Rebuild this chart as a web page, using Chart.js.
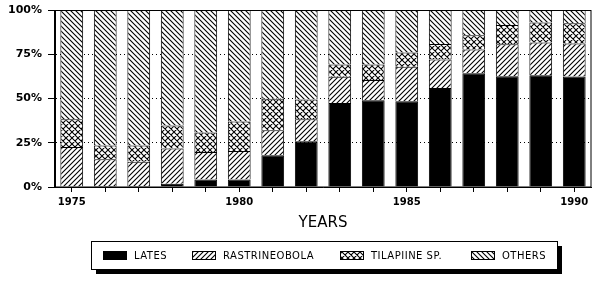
<!DOCTYPE html>
<html>
<head>
<meta charset="utf-8">
<script src="https://cdn.jsdelivr.net/npm/chart.js@4"></script>
<style>
  body { margin: 0; background: #fff; }
  canvas { display: block; }
</style>
</head>
<body>
<canvas id="myChart" width="600" height="281"></canvas>
<script>
// values, percent of catch
var years = ['1975', '1976', '1977', '1978', '1979', '1980', '1981', '1982',
             '1983', '1984', '1985', '1986', '1987', '1988', '1989', '1990'];
var lates = [0, 0.5, 0.5, 1.9, 4.2, 4.2, 17.9, 25.8, 47.5, 49, 48.5, 56, 64.2, 62.6, 63.2, 62.5];
var rastrineobola = [22.6, 15.2, 13.7, 19.8, 15.6, 16.2, 14.2, 12.5, 14.8, 11.4, 19.4, 16, 13.5, 18, 18.5, 18.6];
var tilapiine = [15.7, 7.7, 9.2, 13, 11, 16.6, 17.7, 11.1, 6.9, 8.8, 8.1, 8.8, 8.1, 10.9, 11.3, 11.4];
var others = [61.7, 76.6, 76.6, 65.3, 69.2, 63, 50.2, 50.6, 30.8, 30.8, 24, 19.2, 14.2, 8.5, 7, 7.5];
var yTicks = [0, 25, 50, 75, 100];
var xLabelled = ['1975', '1980', '1985', '1990'];

function hatch(kind) {
    var s = kind == 'cross' ? 6 : 5;
    var c = document.createElement('canvas');
    c.width = s; c.height = s;
    var g = c.getContext('2d');
    g.fillStyle = '#fff';
    g.fillRect(0, 0, s, s);
    g.strokeStyle = '#000';
    g.lineWidth = 1.1;
    g.beginPath();
    if (kind == 'fwd' || kind == 'cross') {
        g.moveTo(-1, s + 1); g.lineTo(s + 1, -1);
        g.moveTo(-1, 1); g.lineTo(1, -1);
        g.moveTo(s - 1, s + 1); g.lineTo(s + 1, s - 1);
    }
    if (kind == 'back' || kind == 'cross') {
        g.moveTo(-1, -1); g.lineTo(s + 1, s + 1);
        g.moveTo(s - 1, -1); g.lineTo(s + 1, 1);
        g.moveTo(-1, s - 1); g.lineTo(1, s + 1);
    }
    g.stroke();
    return g.createPattern(c, 'repeat');
}

var fills = ['#000', hatch('fwd'), hatch('cross'), hatch('back')];

// frame around the plot + the boxed legend with a drop shadow
var framePlugin = {
    id: 'frame',
    afterDraw: function(chart) {
        var ctx = chart.ctx;
        var a = chart.chartArea;
        ctx.save();
        ctx.strokeStyle = '#000';
        ctx.lineWidth = 1;
        ctx.strokeRect(Math.round(a.left) - 0.5, Math.round(a.top) + 0.5,
                       Math.round(a.right - a.left) + 0.5, Math.round(a.bottom - a.top) - 0.5);

        var bx = 91, by = 241, bw = 466, bh = 28;
        ctx.fillStyle = '#000';
        ctx.fillRect(bx + 5, by + 5, bw, bh);
        ctx.fillStyle = '#fff';
        ctx.fillRect(bx, by, bw, bh);
        ctx.strokeRect(bx + 0.5, by + 0.5, bw, bh);

        var itemX = [103, 192, 340, 471];
        ctx.font = '10px "DejaVu Sans"';
        ctx.letterSpacing = '0.5px';
        ctx.textBaseline = 'middle';
        chart.data.datasets.forEach(function(ds, i) {
            var x = itemX[i];
            ctx.fillStyle = ds.backgroundColor;
            ctx.fillRect(x, 251, 24, 9);
            ctx.strokeRect(x + 0.5, 251.5, 23, 8);
            ctx.fillStyle = '#000';
            ctx.fillText(ds.label, x + 31, 256);
        });
        ctx.restore();
    }
};

(function() {
    var ctx = document.getElementById('myChart').getContext('2d');
    var names = ['LATES', 'RASTRINEOBOLA', 'TILAPIINE SP.', 'OTHERS'];
    var series = [lates, rastrineobola, tilapiine, others];

    var myChart = new Chart(ctx, {
        type: 'bar',
        data: {
            labels: years,
            datasets: series.map(function(s, i) {
                return {
                    label: names[i],
                    data: s,
                    backgroundColor: fills[i],
                    borderColor: '#000',
                    // no bottom edge, so stacked segments share one separator line
                    borderWidth: { top: 1, left: 1, right: 1, bottom: 0 },
                    borderSkipped: false,
                    categoryPercentage: 1,
                    barPercentage: 0.68
                };
            })
        },
        options: {
            responsive: false,
            animation: false,
            layout: { padding: { top: 10, right: 9, left: 0, bottom: 0 } },
            plugins: {
                legend: { display: false },
                tooltip: { enabled: false }
            },
            scales: {
                x: {
                    stacked: true,
                    afterFit: function(scale) { scale.height = 94; },
                    grid: {
                        offset: false,
                        drawOnChartArea: false,
                        tickLength: 5,
                        tickColor: '#000'
                    },
                    border: { color: '#000', width: 1 },
                    ticks: {
                        autoSkip: false,
                        maxRotation: 0,
                        padding: 4,
                        color: '#000',
                        font: { family: 'DejaVu Sans', size: 10, weight: 'bold' },
                        callback: function(v) {
                            var lab = this.getLabelForValue(v);
                            return xLabelled.indexOf(lab) >= 0 ? lab : '';
                        }
                    },
                    title: {
                        display: true,
                        text: 'YEARS',
                        color: '#000',
                        font: { family: 'DejaVu Sans', size: 15 },
                        padding: { top: 0, bottom: 49 }
                    }
                },
                y: {
                    stacked: true,
                    min: 0,
                    max: 100,
                    afterFit: function(scale) {
                        scale.width = 55;
                        scale.paddingTop = 0;
                    },
                    afterBuildTicks: function(scale) {
                        scale.ticks = yTicks.map(function(v) { return { value: v }; });
                    },
                    grid: {
                        color: function(c) {
                            return (c.tick && (c.tick.value == 0 || c.tick.value == 100)) ? 'rgba(0,0,0,0)' : '#000';
                        },
                        tickColor: '#000',
                        tickLength: 7,
                        tickBorderDash: []
                    },
                    border: { color: '#000', width: 1, dash: [1, 3] },
                    ticks: {
                        padding: 6,
                        color: '#000',
                        font: { family: 'DejaVu Sans', size: 11, weight: 'bold' },
                        callback: function(v) { return v + '%'; }
                    }
                }
            }
        },
        plugins: [framePlugin]
    });
})();
</script>
</body>
</html>
